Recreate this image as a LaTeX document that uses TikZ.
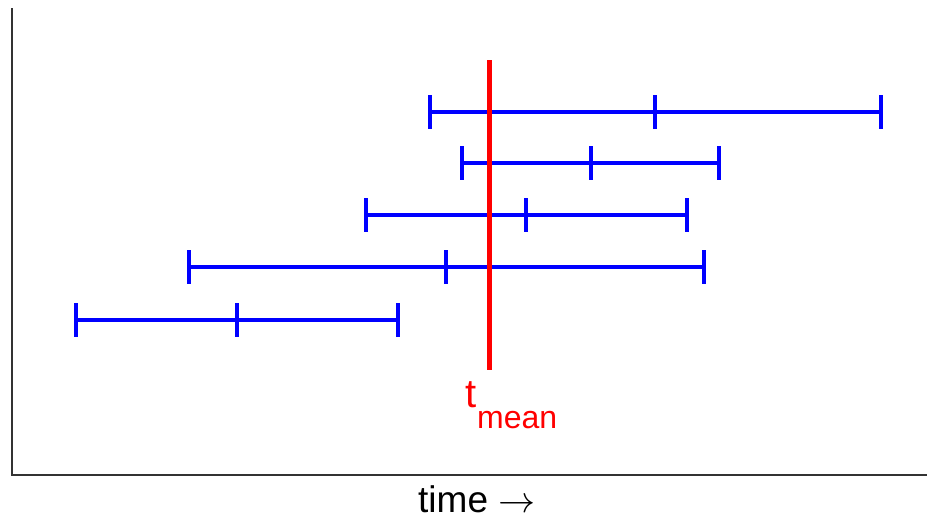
\documentclass[tikz,border=0pt]{standalone}
\usepackage{fix-cm}
\usepackage{fontspec}
\setmainfont{Liberation Sans}
\begin{document}
\begin{tikzpicture}[x=1pt,y=-1pt,
  axisline/.style={line width=1.5pt,draw=black!80},
  errbar/.style={line width=4.5pt,draw=blue},
  meanline/.style={line width=5pt,draw=red},
  tick/.style={line width=4.5pt,draw=blue}]
\useasboundingbox (0,0) rectangle (927,517);
% axes
\coordinate (ytop) at (12,8);
\coordinate (orig) at (12,475);
\coordinate (xend) at (927,475);
\draw[axisline] (ytop) -- (orig) -- (xend);
% interval bars
\foreach \y/\a/\m/\b in {112/430/655/881, 163/462/591/719, 215/366/526/687, 267/189/446/704, 320/76/237/398}{
  \draw[errbar] (\a,\y) -- (\b,\y);
  \foreach \x in {\a,\m,\b}{
    \draw[tick] (\x,\y-17) -- (\x,\y+17);
  }
}
% mean line
\coordinate (mtop) at (489,60);
\coordinate (mbot) at (489,370);
\draw[meanline] (mtop) -- (mbot);
\node[text=red,font=\fontsize{40}{40}\selectfont,anchor=base,inner sep=0pt] (t) at (471,407) {t};
\node[text=red,font=\fontsize{32}{32}\selectfont,anchor=base west,inner sep=0pt] (sub) at (477,428) {mean};
\node[font=\fontsize{37}{37}\selectfont,anchor=base west,inner sep=0pt] (lbl) at (418,512) {time $\rightarrow$};
\end{tikzpicture}
\end{document}
